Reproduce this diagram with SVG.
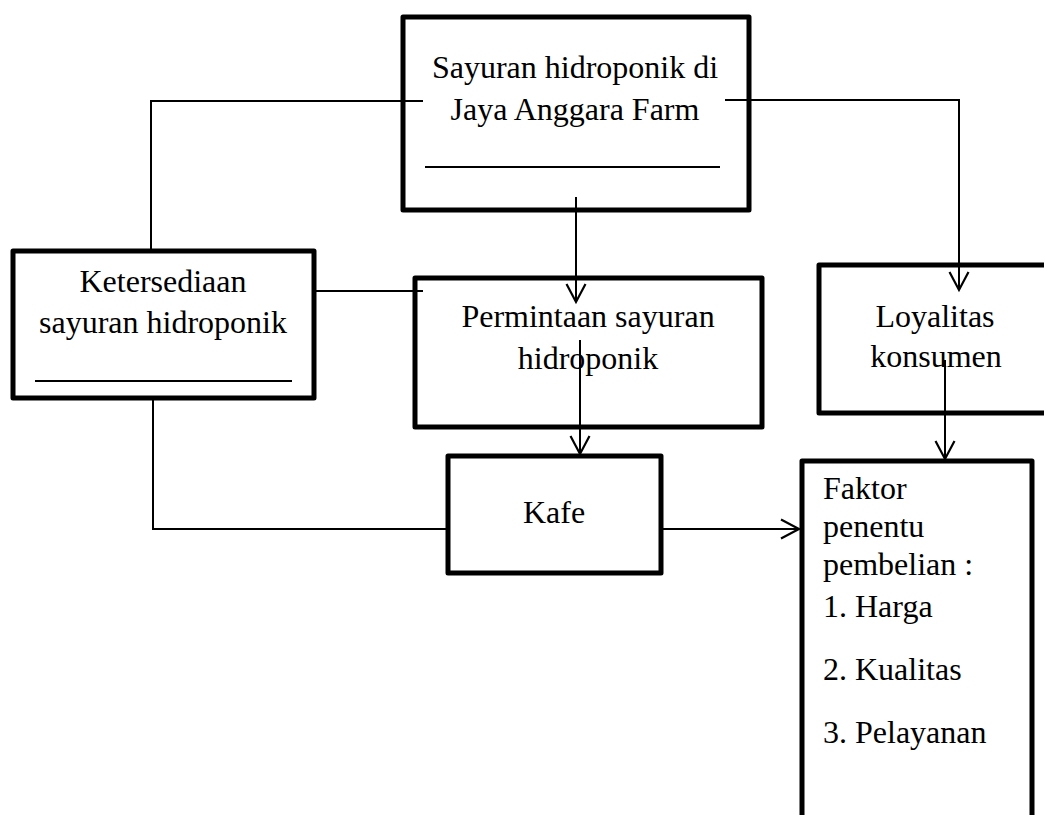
<svg xmlns="http://www.w3.org/2000/svg" width="1044" height="815" viewBox="0 0 1044 815">
<style>
.box{fill:#fff;stroke:#000;stroke-width:5;stroke-linejoin:round}
.ln{fill:none;stroke:#000;stroke-width:2}
.t{font-family:"Liberation Serif","Times New Roman",serif;font-size:32px;fill:#000}
.c{text-anchor:middle}
</style>
<defs>
<marker id="arr" viewBox="0 0 24 24" markerWidth="24" markerHeight="24" refX="20" refY="12" orient="auto" markerUnits="userSpaceOnUse">
<path d="M2,2.5 L20,12 L2,21.5" fill="none" stroke="#000" stroke-width="2.2"/>
</marker>
</defs>
<rect width="1044" height="815" fill="#fff"/>
<g id="node-sayuran">
<rect class="box" x="403" y="17" width="346" height="193"/>
<text class="t c" x="575" y="78">Sayuran hidroponik di</text>
<text class="t c" x="575" y="120">Jaya Anggara Farm</text>
<line class="ln" x1="425" y1="167" x2="720" y2="167"/>
</g>
<g id="node-ketersediaan">
<rect class="box" x="13" y="251" width="301" height="147"/>
<text class="t c" x="163" y="292">Ketersediaan</text>
<text class="t c" x="163" y="333">sayuran hidroponik</text>
<line class="ln" x1="35" y1="381" x2="292" y2="381"/>
</g>
<g id="node-permintaan">
<rect class="box" x="415" y="278" width="347" height="149"/>
<text class="t c" x="588" y="327">Permintaan sayuran</text>
<text class="t c" x="588" y="369">hidroponik</text>
</g>
<g id="node-kafe">
<rect class="box" x="448" y="456" width="213" height="117"/>
<text class="t c" x="554" y="523">Kafe</text>
</g>
<g id="node-loyalitas">
<rect class="box" x="819" y="265" width="240" height="148"/>
<text class="t c" x="935" y="327">Loyalitas</text>
<text class="t c" x="936" y="367">konsumen</text>
</g>
<g id="node-faktor">
<rect class="box" x="802" y="461" width="230" height="380"/>
<text class="t" x="823" y="499">Faktor</text>
<text class="t" x="823" y="537">penentu</text>
<text class="t" x="823" y="575">pembelian :</text>
<text class="t" x="823" y="617">1. Harga</text>
<text class="t" x="823" y="680">2. Kualitas</text>
<text class="t" x="823" y="743">3. Pelayanan</text>
</g>
<g id="connectors">
<polyline class="ln" points="423,101 151,101 151,250"/>
<polyline class="ln" points="725,100 959,100 959,290" marker-end="url(#arr)"/>
<line class="ln" x1="576" y1="197" x2="576" y2="302" marker-end="url(#arr)"/>
<line class="ln" x1="316" y1="291" x2="423" y2="291"/>
<line class="ln" x1="580" y1="340" x2="580" y2="454" marker-end="url(#arr)"/>
<polyline class="ln" points="153,398 153,529 448,529"/>
<line class="ln" x1="661" y1="529" x2="799" y2="529" marker-end="url(#arr)"/>
<line class="ln" x1="945" y1="360" x2="945" y2="459" marker-end="url(#arr)"/>
</g>
</svg>
